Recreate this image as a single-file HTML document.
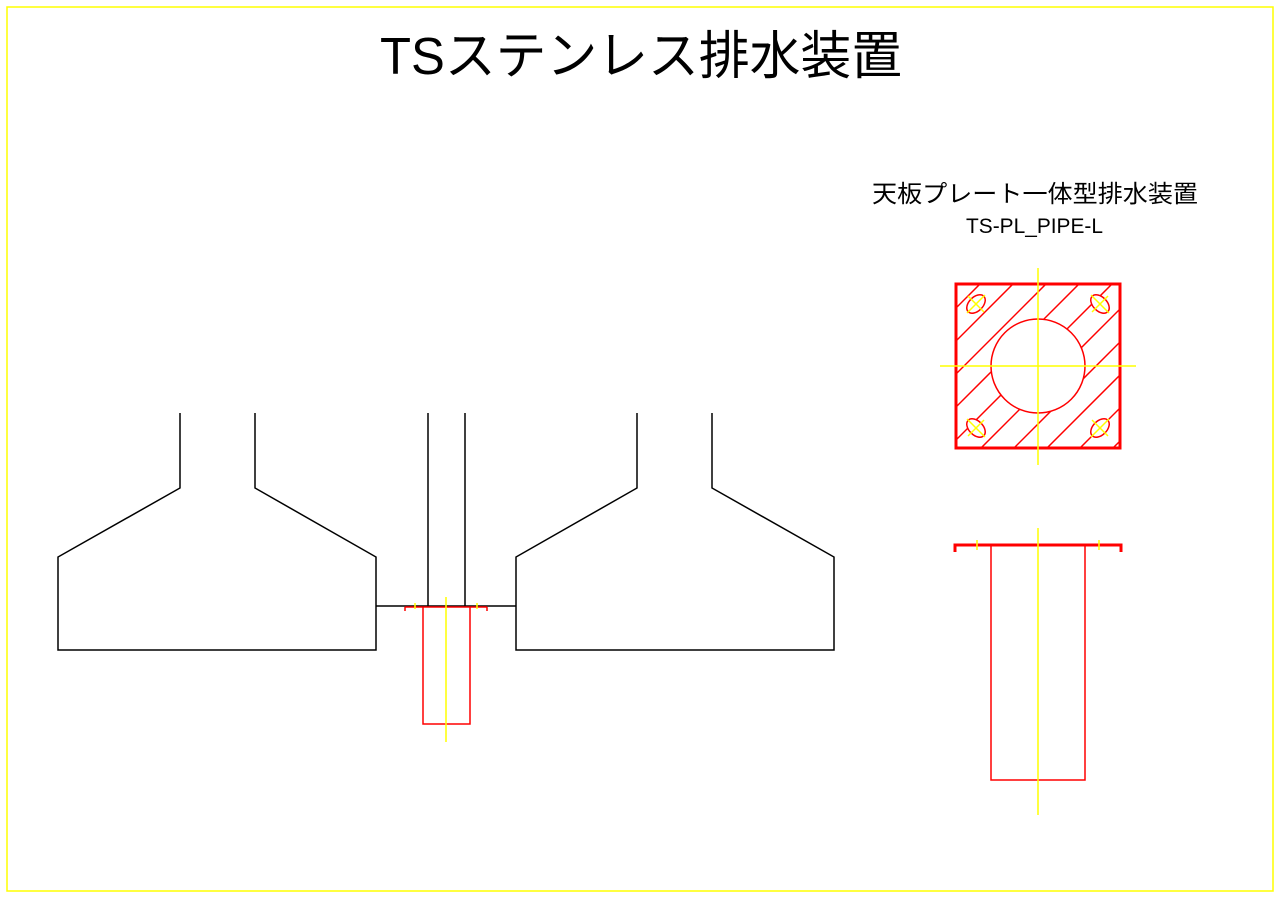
<!DOCTYPE html>
<html><head><meta charset="utf-8"><style>html,body{margin:0;padding:0;background:#fff}svg{display:block}</style></head>
<body>
<svg width="1280" height="905" viewBox="0 0 1280 905" xmlns="http://www.w3.org/2000/svg">
<rect x="7" y="7" width="1266" height="884" fill="none" stroke="#ffff00" stroke-width="1.5"/>
<text x="380" y="74" font-family="'Liberation Sans Narrow','Liberation Sans','Noto Sans CJK JP',sans-serif" font-size="52" textLength="522" lengthAdjust="spacingAndGlyphs" fill="#000">TSステンレス排水装置</text>
<text x="872" y="202" font-family="'Liberation Sans','Noto Sans CJK JP',sans-serif" font-size="24" textLength="326" lengthAdjust="spacingAndGlyphs" fill="#000">天板プレート一体型排水装置</text>
<text x="966" y="233" font-family="'Liberation Sans Narrow','Liberation Sans','Noto Sans CJK JP',sans-serif" font-size="21" textLength="137" lengthAdjust="spacingAndGlyphs" fill="#000">TS-PL_PIPE-L</text>

<g stroke="#000" stroke-width="1.5" fill="none">
<polyline points="180,413 180,488 58,557 58,650 376,650 376,557 255,488 255,413"/>
<polyline points="637,413 637,488 516,557 516,650 834,650 834,557 712,488 712,413"/>
<line x1="428" y1="413" x2="428" y2="606"/>
<line x1="465" y1="413" x2="465" y2="606"/>
<line x1="376" y1="606" x2="516" y2="606"/>
</g>
<g stroke="#ff0000" stroke-width="1.5" fill="none">
<polyline points="423,607 423,724 470,724 470,607"/>
<line x1="405" y1="607" x2="487" y2="607"/>
<line x1="405" y1="607" x2="405" y2="611"/>
<line x1="487" y1="607" x2="487" y2="611"/>
</g>
<line x1="446" y1="597" x2="446" y2="742" stroke="#ffff00" stroke-width="1.5"/>
<line x1="415" y1="603" x2="415" y2="609" stroke="#ffff00" stroke-width="1.5"/>
<line x1="477" y1="603" x2="477" y2="609" stroke="#ffff00" stroke-width="1.5"/>

<defs><clipPath id="sq"><rect x="955" y="283" width="166" height="166"/></clipPath></defs>
<g clip-path="url(#sq)" stroke="#ff0000" stroke-width="1.5">
<line x1="815" y1="449" x2="981" y2="283"/>
<line x1="848" y1="449" x2="1014" y2="283"/>
<line x1="881" y1="449" x2="1047" y2="283"/>
<line x1="914" y1="449" x2="1080" y2="283"/>
<line x1="947" y1="449" x2="1113" y2="283"/>
<line x1="980" y1="449" x2="1146" y2="283"/>
<line x1="1013" y1="449" x2="1179" y2="283"/>
<line x1="1046" y1="449" x2="1212" y2="283"/>
<line x1="1079" y1="449" x2="1245" y2="283"/>
<line x1="1112" y1="449" x2="1278" y2="283"/>
</g>
<circle cx="1038" cy="366" r="47" fill="#fff" stroke="#ff0000" stroke-width="1.5"/>
<g fill="#fff" stroke="#ff0000" stroke-width="1.5">
<ellipse cx="976" cy="304" rx="11" ry="7" transform="rotate(-45 976 304)"/>
<ellipse cx="1100" cy="304" rx="11" ry="7" transform="rotate(45 1100 304)"/>
<ellipse cx="976" cy="428" rx="11" ry="7" transform="rotate(45 976 428)"/>
<ellipse cx="1100" cy="428" rx="11" ry="7" transform="rotate(-45 1100 428)"/>
</g>
<g stroke="#ffff00" stroke-width="1.5">
<line x1="968" y1="296" x2="984" y2="312"/><line x1="967" y1="313" x2="985" y2="295"/>
<line x1="1091" y1="295" x2="1109" y2="313"/><line x1="1092" y1="312" x2="1108" y2="296"/>
<line x1="967" y1="419" x2="985" y2="437"/><line x1="968" y1="436" x2="984" y2="420"/>
<line x1="1092" y1="420" x2="1108" y2="436"/><line x1="1091" y1="437" x2="1109" y2="419"/>
</g>
<rect x="956" y="284" width="164" height="164" fill="none" stroke="#ff0000" stroke-width="3"/>
<line x1="1038" y1="268" x2="1038" y2="465" stroke="#ffff00" stroke-width="1.5"/>
<line x1="940" y1="366" x2="1136" y2="366" stroke="#ffff00" stroke-width="1.5"/>

<polyline points="955,552 955,545 1121,545 1121,552" fill="none" stroke="#ff0000" stroke-width="3"/>
<polyline points="991,545 991,780 1085,780 1085,545" fill="none" stroke="#ff0000" stroke-width="1.5"/>
<line x1="1038" y1="528" x2="1038" y2="815" stroke="#ffff00" stroke-width="1.5"/>
<line x1="977" y1="540" x2="977" y2="550" stroke="#ffff00" stroke-width="1.5"/>
<line x1="1099" y1="540" x2="1099" y2="550" stroke="#ffff00" stroke-width="1.5"/>
</svg>
</body></html>
